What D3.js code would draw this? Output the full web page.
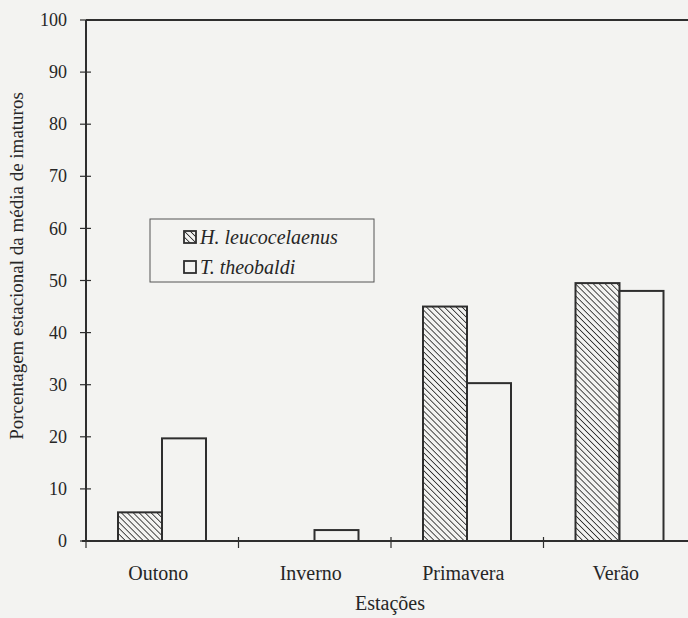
<!DOCTYPE html>
<html>
<head>
<meta charset="utf-8">
<script src="https://cdn.jsdelivr.net/npm/d3@7"></script>
<style>
  body { margin: 0; background: #f3f3f1; }
  svg { display: block; }
</style>
</head>
<body>
<div id="app"></div>
<script>
const seasons = ['Outono', 'Inverno', 'Primavera', 'Verão'];
const hLeuco = [5.5, 0, 45, 49.5];
const tTheo = [19.7, 2.1, 30.3, 48];
const yTicks = [0, 10, 20, 30, 40, 50, 60, 70, 80, 90, 100];

const width = 688, height = 618;
const x0 = 86, x1 = 696, yTop = 20, yBot = 541;
const ink = '#2e2e2e';
const txt = '#262626';
const serif = "'Liberation Serif', 'DejaVu Serif', 'Times New Roman', serif";

const svg = d3.select('#app').append('svg')
  .attr('width', width).attr('height', height)
  .style('font-family', serif);

// hatch pattern (\\\ direction)
const defs = svg.append('defs');
const pat = defs.append('pattern')
  .attr('id', 'hatch')
  .attr('patternUnits', 'userSpaceOnUse')
  .attr('width', 4.2).attr('height', 4.2)
  .attr('patternTransform', 'rotate(-45)');
pat.append('rect').attr('width', 4.2).attr('height', 4.2).attr('fill', '#f3f3f1');
pat.append('line')
  .attr('x1', 0).attr('y1', 0).attr('x2', 0).attr('y2', 4.2)
  .attr('stroke', '#222').attr('stroke-width', 1.6);

const x = d3.scaleBand().domain(seasons).range([x0, x1]);
const y = d3.scaleLinear().domain([0, 100]).range([yBot, yTop]);

const series = [
  { name: 'H. leucocelaenus', values: hLeuco, fill: 'url(#hatch)' },
  { name: 'T. theobaldi', values: tTheo, fill: '#f3f3f1' }
];
const barW = 44, barOff = 32;

// bars
series.forEach((s, si) => {
  svg.append('g').selectAll('rect')
    .data(seasons.map((c, i) => ({ c, v: s.values[i] })).filter(d => d.v > 0))
    .enter().append('rect')
    .attr('x', d => x(d.c) + barOff + si * barW)
    .attr('y', d => y(d.v))
    .attr('width', barW)
    .attr('height', d => yBot - y(d.v))
    .attr('fill', s.fill)
    .attr('stroke', ink)
    .attr('stroke-width', 2);
});

// frame: left axis, top line, bottom axis
svg.append('line').attr('x1', x0).attr('x2', x0).attr('y1', yTop).attr('y2', yBot)
  .attr('stroke', ink).attr('stroke-width', 2);
svg.append('line').attr('x1', x0).attr('x2', width).attr('y1', yTop).attr('y2', yTop)
  .attr('stroke', ink).attr('stroke-width', 2);
svg.append('line').attr('x1', x0 - 4).attr('x2', width).attr('y1', yBot).attr('y2', yBot)
  .attr('stroke', ink).attr('stroke-width', 2);

// y ticks
const yg = svg.append('g');
yTicks.forEach(t => {
  yg.append('line').attr('x1', x0 - 6).attr('x2', x0 + 5)
    .attr('y1', y(t)).attr('y2', y(t))
    .attr('stroke', ink).attr('stroke-width', 1.2);
  yg.append('text').attr('x', 67).attr('y', y(t)).attr('dy', '0.34em')
    .attr('text-anchor', 'end').attr('font-size', 18).attr('fill', txt).text(t);
});

// x ticks at category boundaries
const bounds = seasons.map(c => x(c)).concat([x1]);
bounds.forEach(b => {
  svg.append('line').attr('x1', b).attr('x2', b)
    .attr('y1', yBot - 4).attr('y2', yBot + 7)
    .attr('stroke', ink).attr('stroke-width', 1.2);
});
seasons.forEach(c => {
  svg.append('text').attr('x', x(c) + x.bandwidth() / 2 - 4).attr('y', 580)
    .attr('text-anchor', 'middle').attr('font-size', 20).attr('fill', txt).text(c);
});

// axis titles
svg.append('text').attr('x', 390).attr('y', 610)
  .attr('text-anchor', 'middle').attr('font-size', 20).attr('fill', txt).text('Estações');
svg.append('text')
  .attr('transform', 'translate(23,266) rotate(-90)')
  .attr('text-anchor', 'middle').attr('font-size', 19).attr('fill', txt)
  .text('Porcentagem estacional da média de imaturos');

// legend
const lg = svg.append('g');
lg.append('rect').attr('x', 150).attr('y', 219).attr('width', 224).attr('height', 63)
  .attr('fill', '#f3f3f1').attr('stroke', '#555').attr('stroke-width', 1);
series.forEach((s, i) => {
  const cy = 237 + i * 30;
  lg.append('rect').attr('x', 184).attr('y', cy - 6).attr('width', 12).attr('height', 12)
    .attr('fill', s.fill).attr('stroke', ink).attr('stroke-width', 1.8);
  lg.append('text').attr('x', 200).attr('y', cy).attr('dy', '0.36em')
    .attr('font-size', 20).attr('font-style', 'italic').attr('fill', txt).text(s.name);
});
</script>
</body>
</html>
